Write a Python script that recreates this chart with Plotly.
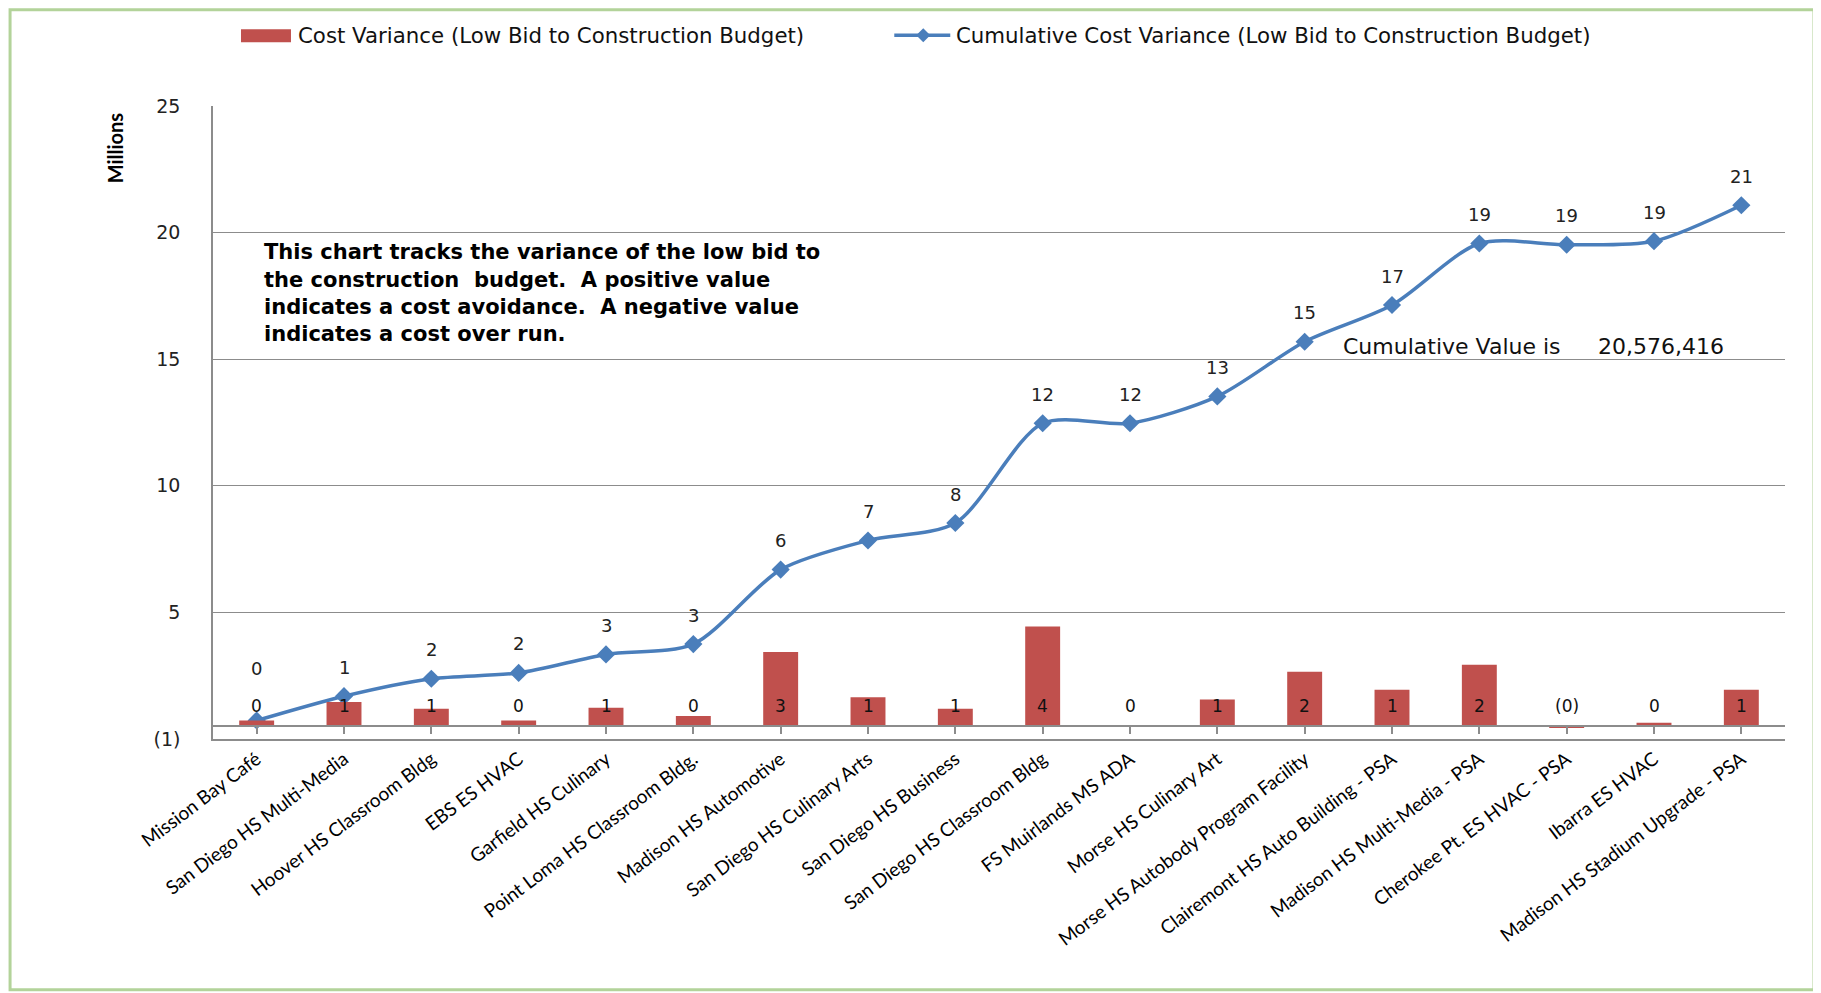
import plotly.graph_objects as go

# ---------------- data (values in millions) ----------------
categories = [
    "Mission Bay Café", "San Diego HS Multi-Media", "Hoover HS Classroom Bldg",
    "EBS ES HVAC", "Garfield HS Culinary", "Point Loma HS Classroom Bldg.",
    "Madison HS Automotive", "San Diego HS Culinary Arts", "San Diego HS Business",
    "San Diego HS Classroom Bldg", "FS Muirlands MS ADA", "Morse HS Culinary Art",
    "Morse HS Autobody Program Facility", "Clairemont HS Auto Building - PSA",
    "Madison HS Multi-Media - PSA", "Cherokee Pt. ES HVAC - PSA", "Ibarra ES HVAC",
    "Madison HS Stadium Upgrade - PSA",
]
cost_variance = [0.23, 0.96, 0.69, 0.23, 0.73, 0.41, 2.94, 1.15, 0.69, 3.94,
                 0.00, 1.06, 2.16, 1.45, 2.43, -0.05, 0.14, 1.45]
cumulative_variance = [0.23, 1.19, 1.88, 2.11, 2.84, 3.25, 6.19, 7.34, 8.03, 11.97,
                       11.97, 13.03, 15.19, 16.64, 19.07, 19.02, 19.16, 20.58]
y_tick_values = [-0.5, 4.5, 9.5, 14.5, 19.5, 24.5]
y_tick_labels = ["(1)", "5", "10", "15", "20", "25"]
cumulative_total = 20576416
series_names = ["Cost Variance (Low Bid to Construction Budget)",
                "Cumulative Cost Variance (Low Bid to Construction Budget)"]
note_lines = [
    "This chart tracks the variance of the low bid to",
    "the construction  budget.  A positive value",
    "indicates a cost avoidance.  A negative value",
    "indicates a cost over run.",
]

# ---------------- layout geometry (page px; page has an 8px body margin) ----------------
OFF = 8
W, H = 1821 - OFF, 993 - OFF
L, R, T, B = 212.5, 1785.0, 105.7, 738.7   # plot area in page coordinates
PW, PH = R - L, B - T


def px(x):
    return (x - L) / PW


def py(y):
    return (B - y) / PH


def fmt(v):
    r = int(abs(v) + 0.5)
    return f"({r})" if v < 0 else f"{r}"


BAR_COLOR = "#C0504D"
LINE_COLOR = "#4A7EBB"
GRID = "#8C8C8C"

fig = go.Figure()
fig.add_trace(go.Bar(
    x=categories, y=cost_variance, name=series_names[0],
    marker=dict(color=BAR_COLOR, line=dict(width=0)), width=0.4, xaxis="x2",
))
fig.add_trace(go.Scatter(
    x=categories, y=cumulative_variance, mode="lines+markers", name=series_names[1],
    line=dict(color=LINE_COLOR, width=3.5, shape="spline", smoothing=0.8),
    marker=dict(symbol="diamond", size=14, color=LINE_COLOR),
))

annotations = []
# bar data labels (inside base)
for c, v in zip(categories, cost_variance):
    annotations.append(dict(x=c, y=0, xref="x", yref="y", text=fmt(v), showarrow=False,
                            yanchor="middle", yshift=20,
                            font=dict(family="DejaVu Sans", size=17, color="#111111")))
# cumulative data labels
for i, (c, v) in enumerate(zip(categories, cumulative_variance)):
    annotations.append(dict(x=c, y=v, xref="x", yref="y", text=fmt(v), showarrow=False,
                            yanchor="middle", yshift=52 if i == 0 else 29,
                            font=dict(family="DejaVu Sans", size=18, color="#222222")))
# Millions label
annotations.append(dict(x=px(114), y=py(147.5), xref="paper", yref="paper", text="<b>Millions</b>",
                        textangle=-90, showarrow=False, xanchor="center", yanchor="middle",
                        font=dict(family="Lato", size=20, color="#000000")))
# note text box
for k, line in enumerate(note_lines):
    annotations.append(dict(x=px(262), y=py(252 + 27.3 * k), xref="paper", yref="paper",
                            text=f"<b>{line}</b>", showarrow=False, xanchor="left", yanchor="middle",
                            font=dict(family="DejaVu Sans", size=21, color="#000000")))
# cumulative value text
annotations.append(dict(x=px(1341), y=py(346), xref="paper", yref="paper", text="Cumulative Value is",
                        showarrow=False, xanchor="left", yanchor="middle",
                        font=dict(family="DejaVu Sans", size=22, color="#111111")))
annotations.append(dict(x=px(1596), y=py(346), xref="paper", yref="paper", text=f"{cumulative_total:,}",
                        showarrow=False, xanchor="left", yanchor="middle",
                        font=dict(family="DejaVu Sans", size=22, color="#111111")))
# legend texts
for name, x0 in zip(series_names, [296, 953.5]):
    annotations.append(dict(x=px(x0), y=py(35), xref="paper", yref="paper", text=name,
                            showarrow=False, xanchor="left", yanchor="middle",
                            font=dict(family="DejaVu Sans", size=21.3, color="#111111")))

shapes = [
    # outer frame
    dict(type="rect", xref="paper", yref="paper", x0=px(9.5), x1=px(1814), y0=py(989.5), y1=py(9.5),
         line=dict(color="#B3D39A", width=3), layer="below"),
    # legend swatches
    dict(type="rect", xref="paper", yref="paper", x0=px(240.5), x1=px(290.5), y0=py(42), y1=py(29),
         line=dict(width=0), fillcolor=BAR_COLOR),
    dict(type="line", xref="paper", yref="paper", x0=px(894), x1=px(950), y0=py(35), y1=py(35),
         line=dict(color=LINE_COLOR, width=3.5)),
    dict(type="path", xref="paper", yref="paper",
         path=(f"M {px(923)} {py(28)} L {px(930)} {py(35)} L {px(923)} {py(42)} "
               f"L {px(916)} {py(35)} Z"),
         line=dict(width=0), fillcolor=LINE_COLOR),
]

fig.update_layout(
    width=W, height=H,
    margin=dict(l=L - OFF, r=W - (R - OFF), t=T - OFF, b=H - (B - OFF), autoexpand=False),
    paper_bgcolor="white", plot_bgcolor="white",
    showlegend=False,
    xaxis=dict(type="category", categoryorder="array", categoryarray=categories,
               range=[-0.5, len(categories) - 0.5], showline=True, linecolor=GRID, linewidth=1.5,
               ticks="", tickangle=-37, showgrid=False, zeroline=False,
               tickfont=dict(family="Lato", size=19, color="#000000")),
    xaxis2=dict(type="category", matches="x", overlaying="x", anchor="free", position=0.5 / 25,
                showticklabels=False, ticks="outside", ticklen=7, tickcolor=GRID, tickwidth=1.5,
                showline=True, linecolor=GRID, linewidth=2, showgrid=False, zeroline=False),
    yaxis=dict(range=[-0.5, 24.5], tickvals=y_tick_values, ticktext=y_tick_labels,
               showgrid=True, gridcolor=GRID, gridwidth=1, showline=True, linecolor=GRID,
               linewidth=1.5, zeroline=False, ticks="", ticklabelstandoff=27,
               tickfont=dict(family="DejaVu Sans", size=19, color="#222222")),
    annotations=annotations, shapes=shapes,
    bargap=0.6,
)

fig.write_html("out.html")
